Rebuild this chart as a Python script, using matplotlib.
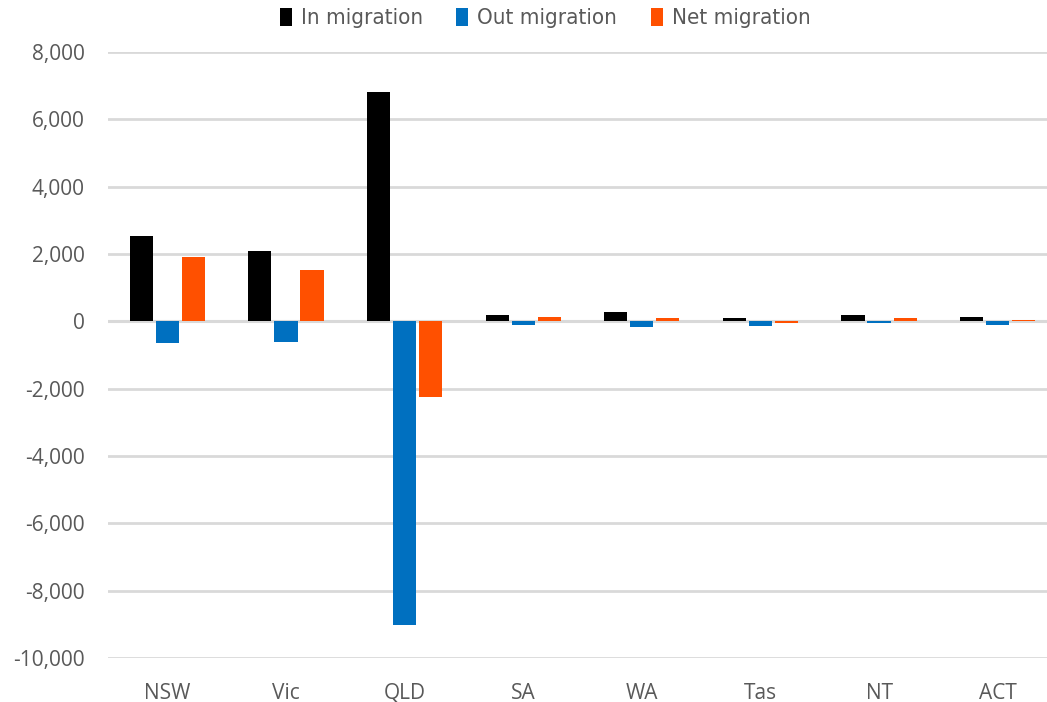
import matplotlib
matplotlib.use("Agg")
import matplotlib.pyplot as plt
import numpy as np
from matplotlib.ticker import FuncFormatter

categories = ["NSW", "Vic", "QLD", "SA", "WA", "Tas", "NT", "ACT"]
in_migration = [2520, 2100, 6800, 200, 290, 90, 180, 140]
out_migration = [-650, -620, -9030, -100, -180, -150, -60, -110]
net_migration = [1900, 1520, -2250, 130, 100, -60, 100, 40]
series_names = ["In migration", "Out migration", "Net migration"]
colors = ["#000000", "#0070C0", "#FF5000"]

W, H = 1047, 702
fig = plt.figure(figsize=(W / 100, H / 100), dpi=100)
left, right, top, bottom = 108, 1057, 52, 658
ax = fig.add_axes([left / W, 1 - bottom / H, (right - left) / W, (bottom - top) / H])

x = np.arange(len(categories))
width = 0.195
offs = [-0.22, 0.0, 0.22]
for vals, off, c, name in zip([in_migration, out_migration, net_migration], offs, colors, series_names):
    ax.bar(x + off, vals, width, color=c, label=name, zorder=3)

ax.set_xlim(-0.5, len(categories) - 0.5)
ax.set_ylim(-10000, 8000)
ax.set_yticks(np.arange(-10000, 8001, 2000))
ax.yaxis.set_major_formatter(FuncFormatter(lambda v, p: f"{int(v):,}"))
ax.grid(axis="y", color="#d9d9d9", linewidth=2, zorder=0)
ax.axhline(0, color="#d9d9d9", linewidth=2.2, zorder=1)
for s in ax.spines.values():
    s.set_visible(False)
ax.tick_params(axis="both", length=0, labelsize=15, labelcolor="#595959")
ax.tick_params(axis="y", pad=17)
ax.tick_params(axis="x", pad=18)
ax.set_xticks(x)
ax.set_xticklabels(categories)
for lab in ax.get_xticklabels() + ax.get_yticklabels():
    lab.set_fontfamily(["Open Sans", "DejaVu Sans"])

leg = fig.legend(loc="center", bbox_to_anchor=(545 / W, 1 - 18 / H), ncol=3, frameon=False,
                 prop={"family": ["DejaVu Sans"], "stretch": "condensed", "size": 16},
                 handlelength=0.55, handleheight=0.9, handletextpad=0.4, columnspacing=1.5)
for t in leg.get_texts():
    t.set_color("#595959")

fig.savefig("out.png", dpi=100)
